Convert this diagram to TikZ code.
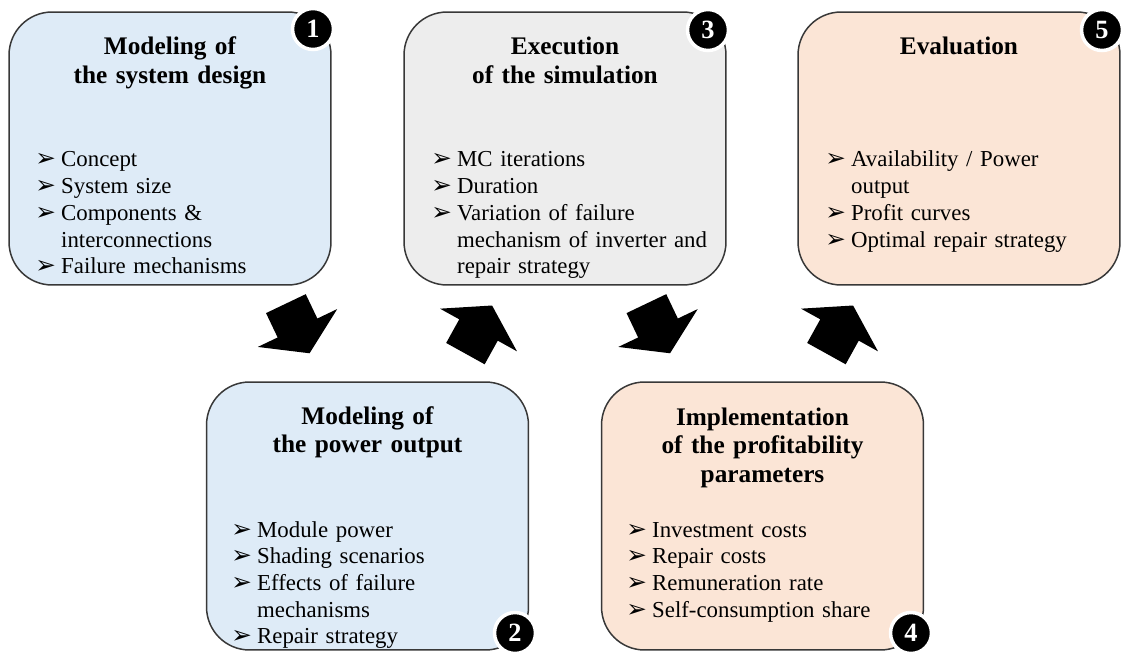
\documentclass[tikz,border=0pt]{standalone}
\usepackage{fontspec}
\setmainfont{Liberation Serif}
\newfontfamily\dingfont{DejaVu Sans}
\usepackage{xcolor}
\usepackage{tikz}
\usetikzlibrary{positioning}

\definecolor{stageblue}{HTML}{DEEBF7}
\definecolor{stagegrey}{HTML}{EDEDED}
\definecolor{stagepeach}{HTML}{FBE5D6}

% one bullet point with hanging indent
\newcommand{\entry}[1]{\noindent\hangindent=14.7pt\hangafter=1%
  \makebox[14.7pt][l]{\dingfont\fontsize{14}{14}\selectfont ➢}#1\par}

\begin{document}
\begin{tikzpicture}[x=0.02cm, y=-0.02cm,
    stagebox/.style={draw=black!78, line width=0.85pt, rounded corners=0.86cm, minimum width=6.44cm},
    stagetitle/.style={anchor=base, text width=6cm, align=center, inner sep=0pt, font=\fontsize{14.4}{16.4}\selectfont\bfseries},
    stagelist/.style={anchor=base west, text width=6cm, inner sep=0pt, font=\fontsize{13}{15.2}\selectfont},
    badge/.style={circle, fill=black, draw=white, line width=2pt, minimum size=0.82cm, inner sep=0pt, text=white, font=\fontsize{15}{15}\selectfont\bfseries},
    bigarrow/.style={fill=black}]

    \useasboundingbox (0,0) rectangle (1125,655);

    % Stage 1: system design
    \node[stagebox, fill=stageblue, minimum height=5.46cm] (s1) at (170,148.5) {};
    \node[stagetitle] (t1) at (170,55) {Modeling of\\the system design};
    \node[stagelist] (l1) at (35,167) {\entry{Concept}\entry{System size}%
      \entry{Components \&\newline interconnections}\entry{Failure mechanisms}};

    % Stage 3: simulation
    \node[stagebox, fill=stagegrey, minimum height=5.46cm] (s3) at (565,148.5) {};
    \node[stagetitle] (t3) at (565,55) {Execution\\of the simulation};
    \node[stagelist] (l3) at (431,167) {\entry{MC iterations}\entry{Duration}%
      \entry{Variation of failure\newline mechanism of inverter and\newline repair strategy}};

    % Stage 5: evaluation
    \node[stagebox, fill=stagepeach, minimum height=5.46cm] (s5) at (959,148.5) {};
    \node[stagetitle] (t5) at (959,55) {Evaluation};
    \node[stagelist] (l5) at (825,167) {\entry{Availability / Power\newline output}%
      \entry{Profit curves}\entry{Optimal repair strategy}};

    % Stage 2: power output
    \node[stagebox, fill=stageblue, minimum height=5.36cm] (s2) at (367.5,516) {};
    \node[stagetitle] (t2) at (367.5,424) {Modeling of\\the power output};
    \node[stagelist] (l2) at (231,537) {\entry{Module power}\entry{Shading scenarios}%
      \entry{Effects of failure\newline mechanisms}\entry{Repair strategy}};

    % Stage 4: profitability
    \node[stagebox, fill=stagepeach, minimum height=5.36cm] (s4) at (762.5,516) {};
    \node[stagetitle] (t4) at (762.5,425) {Implementation\\of the profitability\\parameters};
    \node[stagelist] (l4) at (626,537) {\entry{Investment costs}\entry{Repair costs}%
      \entry{Remuneration rate}\entry{Self-consumption share}};

    % Step numbers
    \node[badge] (n1) at (313,29) {1};
    \node[badge] (n3) at (708,30) {3};
    \node[badge] (n5) at (1102,30) {5};
    \node[badge] (n2) at (515,633) {2};
    \node[badge] (n4) at (911,633) {4};

    % Block arrows between the stages
    \fill[bigarrow, shift={(297.5,328)}, rotate=-64.5] (-27,-22) -- (0,-22) -- (0,-44) -- (28,0) -- (0,44) -- (0,22) -- (-27,22) -- cycle;
    \fill[bigarrow, shift={(478.5,330)}, rotate=61] (-27,-22) -- (0,-22) -- (0,-44) -- (28,0) -- (0,44) -- (0,22) -- (-27,22) -- cycle;
    \fill[bigarrow, shift={(658,328)}, rotate=-64.5] (-27,-22) -- (0,-22) -- (0,-44) -- (28,0) -- (0,44) -- (0,22) -- (-27,22) -- cycle;
    \fill[bigarrow, shift={(839.5,330)}, rotate=61] (-27,-22) -- (0,-22) -- (0,-44) -- (28,0) -- (0,44) -- (0,22) -- (-27,22) -- cycle;
\end{tikzpicture}
\end{document}
